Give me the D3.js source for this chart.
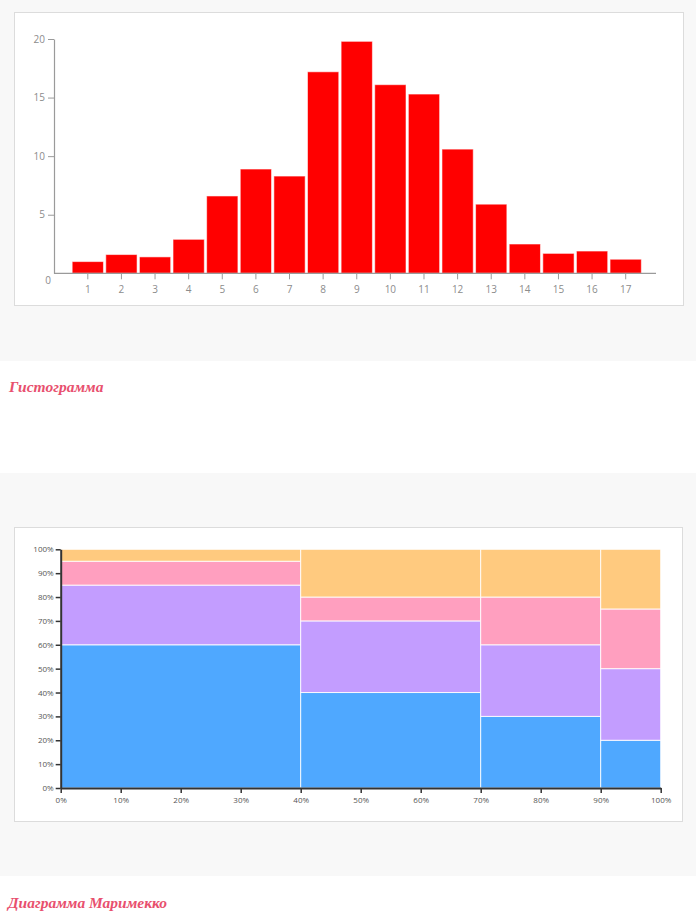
<!DOCTYPE html>
<html>
<head>
<meta charset="utf-8">
<script src="https://cdn.jsdelivr.net/npm/d3@7/dist/d3.min.js"></script>
<style>
  html, body { margin: 0; padding: 0; background: #f8f8f8; }
  svg { display: block; }
  text { font-family: "Open Sans", "Noto Sans", sans-serif; }
  text.caption { font-family: "Liberation Serif", "DejaVu Serif", serif; font-style: italic; font-weight: bold; }
</style>
</head>
<body>
<svg id="chart" width="696" height="922"></svg>
<script>
// ---------- Histogram data ----------
const histCategories = ["1","2","3","4","5","6","7","8","9","10","11","12","13","14","15","16","17"];
const histValues = [1.0, 1.6, 1.4, 2.9, 6.6, 8.9, 8.3, 17.2, 19.8, 16.1, 15.3, 10.6, 5.9, 2.5, 1.7, 1.9, 1.2];
const histYTicks = [0, 5, 10, 15, 20];

// ---------- Marimekko data ----------
const mekkoColumnWidths = [40, 30, 20, 10];        // % of total width
const mekkoSeriesNames = ["blue", "purple", "pink", "orange"];
const mekkoBlue   = [60, 40, 30, 20];
const mekkoPurple = [25, 30, 30, 30];
const mekkoPink   = [10, 10, 20, 25];
const mekkoOrange = [5, 20, 20, 25];
const mekkoColors = ["#4fa8ff", "#c39dff", "#ff9fbf", "#ffca7f"];
const mekkoTicks = [0, 0.1, 0.2, 0.3, 0.4, 0.5, 0.6, 0.7, 0.8, 0.9, 1.0];

const svg = d3.select("#chart");

// ---------- Page backgrounds ----------
svg.append("rect").attr("x", 0).attr("y", 0).attr("width", 696).attr("height", 922).attr("fill", "#f8f8f8");
svg.append("rect").attr("x", 0).attr("y", 361).attr("width", 696).attr("height", 112).attr("fill", "#ffffff");
svg.append("rect").attr("x", 0).attr("y", 876).attr("width", 696).attr("height", 46).attr("fill", "#ffffff");

// chart boxes
svg.append("rect").attr("x", 14.5).attr("y", 12.5).attr("width", 669).attr("height", 293)
  .attr("fill", "#fff").attr("stroke", "#dcdcdc").attr("stroke-width", 1);
svg.append("rect").attr("x", 14.5).attr("y", 527.5).attr("width", 668).attr("height", 294)
  .attr("fill", "#fff").attr("stroke", "#dcdcdc").attr("stroke-width", 1);

// captions
const captionStyle = sel => sel.attr("class", "caption").attr("font-size", 15.5).attr("fill", "#e8506e");
svg.append("text").attr("x", 9).attr("y", 392).text("Гистограмма").call(captionStyle);
svg.append("text").attr("x", 8).attr("y", 908).text("Диаграмма Маримекко").call(captionStyle);

// ---------- Histogram ----------
{
  const g = svg.append("g");
  const x = d3.scaleBand().domain(histCategories).range([71, 642.5]).paddingInner(0.07).paddingOuter(0.035);
  const y = d3.scaleLinear().domain([0, 20]).range([273.3, 39]);
  const axisColor = "#9a9a9a";
  const labelColor = "#8c8c8c";

  g.selectAll("rect.bar").data(histValues).join("rect")
    .attr("class", "bar")
    .attr("x", (d, i) => x(histCategories[i]))
    .attr("y", d => y(d))
    .attr("width", x.bandwidth())
    .attr("height", d => y(0) - y(d))
    .attr("fill", "#ff0000")
    .attr("stroke", "rgba(255,255,255,0.55)")
    .attr("stroke-width", 1);

  // x axis
  const xa = g.append("g").attr("transform", `translate(0,${y(0)})`)
    .call(d3.axisBottom(x).tickSize(6).tickPadding(7).tickSizeOuter(0));
  xa.select(".domain").remove();
  xa.selectAll(".tick line").attr("stroke", axisColor);
  xa.selectAll(".tick text").attr("fill", labelColor).attr("font-size", 10);
  g.append("line").attr("x1", 54).attr("x2", 656).attr("y1", y(0)).attr("y2", y(0))
    .attr("stroke", axisColor).attr("stroke-width", 1.2);

  // y axis
  const ya = g.append("g").attr("transform", "translate(54,0)")
    .call(d3.axisLeft(y).tickValues(histYTicks).tickSize(6).tickPadding(3).tickSizeOuter(0));
  ya.select(".domain").attr("stroke", axisColor).attr("stroke-width", 1.2);
  ya.selectAll(".tick line").attr("stroke", axisColor);
  ya.selectAll(".tick text").attr("fill", labelColor).attr("font-size", 10);
  // zero tick: no tick line, label shifted down/right
  ya.selectAll(".tick").filter(d => d === 0).select("line").remove();
  ya.selectAll(".tick").filter(d => d === 0).select("text").attr("x", -3).attr("dy", "1.0em");
}

// ---------- Marimekko ----------
{
  const g = svg.append("g");
  const x = d3.scaleLinear().domain([0, 1]).range([60.7, 660.7]);
  const y = d3.scaleLinear().domain([0, 1]).range([788, 549.3]);
  const series = [mekkoBlue, mekkoPurple, mekkoPink, mekkoOrange];

  const cells = [];
  let x0 = 0;
  mekkoColumnWidths.forEach((w, ci) => {
    let y0 = 0;
    series.forEach((s, si) => {
      cells.push({ x0: x0 / 100, x1: (x0 + w) / 100, y0: y0 / 100, y1: (y0 + s[ci]) / 100, si });
      y0 += s[ci];
    });
    x0 += w;
  });

  g.selectAll("rect.cell").data(cells).join("rect")
    .attr("class", "cell")
    .attr("x", d => x(d.x0))
    .attr("y", d => y(d.y1))
    .attr("width", d => x(d.x1) - x(d.x0))
    .attr("height", d => y(d.y0) - y(d.y1))
    .attr("fill", d => mekkoColors[d.si])
    .attr("stroke", "rgba(255,255,255,0.85)")
    .attr("stroke-width", 1);

  const fmt = d3.format(".0%");
  const xa = g.append("g").attr("transform", `translate(0,${y(0)})`)
    .call(d3.axisBottom(x).tickValues(mekkoTicks).tickFormat(fmt).tickSize(5).tickPadding(4).tickSizeOuter(0));
  const ya = g.append("g").attr("transform", `translate(${x(0)},0)`)
    .call(d3.axisLeft(y).tickValues(mekkoTicks).tickFormat(fmt).tickSize(5).tickPadding(2).tickSizeOuter(0));
  [xa, ya].forEach(a => {
    a.select(".domain").attr("stroke", "#333").attr("stroke-width", 2);
    a.selectAll(".tick line").attr("stroke", "#333").attr("stroke-width", 1.5);
    a.selectAll(".tick text").attr("fill", "#555").attr("font-size", 8);
  });
}
</script>
</body>
</html>
